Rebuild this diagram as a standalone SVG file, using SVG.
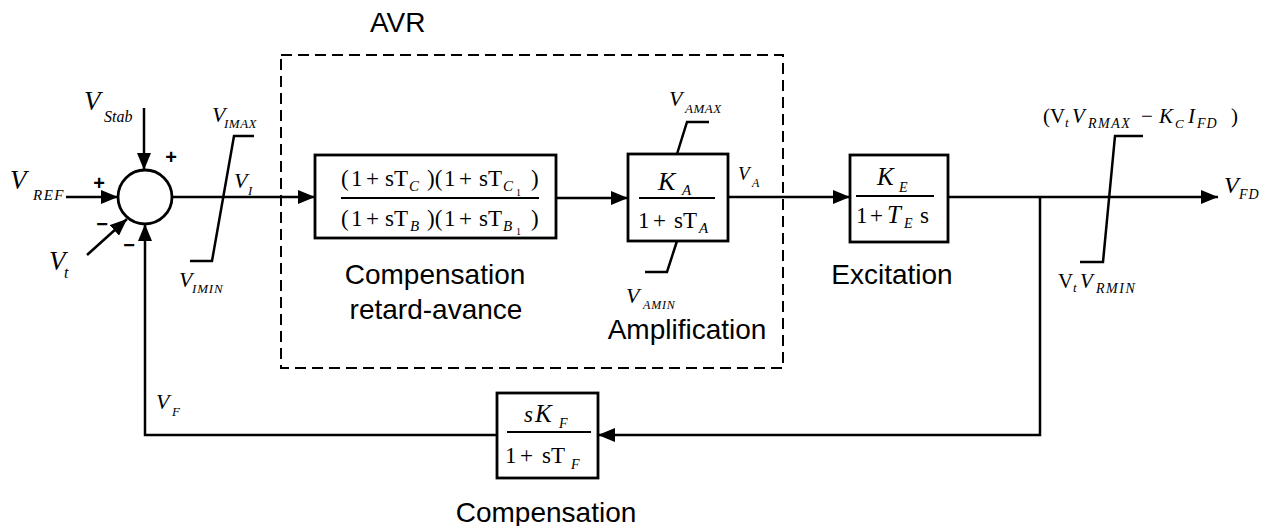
<svg xmlns="http://www.w3.org/2000/svg" width="1275" height="526" viewBox="0 0 1275 526">
<defs>
<style>
.ln{fill:none;stroke:#000;stroke-width:2.5}
.box{fill:#fff;stroke:#000;stroke-width:2.8}
.fr{stroke:#000;stroke-width:2}
.lim{fill:none;stroke:#000;stroke-width:2.5;stroke-linejoin:miter}
.lbl{font-family:"Liberation Sans",Arial,sans-serif;font-size:28px;fill:#000}
.m{font-family:"Liberation Serif","Times New Roman",serif;fill:#000}
.i{font-style:italic}
.sg{font-family:"Liberation Sans",Arial,sans-serif;font-weight:bold;font-size:20px;fill:#000;text-anchor:middle}
</style>
<marker id="ah" markerUnits="userSpaceOnUse" markerWidth="17" markerHeight="14" refX="17" refY="7" orient="auto">
<path d="M0,0 L17,7 L0,14 z" fill="#000"/>
</marker>
</defs>
<rect width="1275" height="526" fill="#fff"/>

<g id="avr-frame">
<rect x="281" y="55" width="502" height="313" fill="none" stroke="#000" stroke-width="2" stroke-dasharray="11 6"/>
<text class="lbl" x="370" y="32" font-size="29">AVR</text>
</g>

<g id="connectors">
<path class="ln" d="M66,197 H118" marker-end="url(#ah)"/>
<path class="ln" d="M144,108 V170" marker-end="url(#ah)"/>
<path class="ln" d="M87,255 L127,219" marker-end="url(#ah)"/>
<path class="ln" d="M497,435 H145 V224" marker-end="url(#ah)"/>
<path class="ln" d="M172,197 H315" marker-end="url(#ah)"/>
<path class="ln" d="M556,198 H628" marker-end="url(#ah)"/>
<path class="ln" d="M728,197 H850" marker-end="url(#ah)"/>
<path class="ln" d="M948,197 H1218" marker-end="url(#ah)"/>
<path class="ln" d="M1040,197 V435 H598" marker-end="url(#ah)"/>
</g>

<g id="sum">
<circle cx="145" cy="197" r="27" fill="#fff" stroke="#000" stroke-width="2.8"/>
<text class="sg" x="171" y="164">+</text>
<text class="sg" x="99" y="190">+</text>
<text class="sg" x="102" y="231">−</text>
<text class="sg" x="129" y="252">−</text>
</g>

<g id="inputs">
<text class="m i" font-size="27"><tspan x="10" y="189">V</tspan><tspan x="33" y="200" font-size="15" letter-spacing="1.5">REF</tspan></text>
<text class="m i" font-size="27"><tspan x="84" y="110">V</tspan><tspan x="104" y="122" font-size="16">Stab</tspan></text>
<text class="m i" font-size="27"><tspan x="49" y="270">V</tspan><tspan x="64" y="278" font-size="16">t</tspan></text>
</g>

<g id="limiter-vi">
<path class="lim" d="M190,261 H212 L234,136 H254"/>
<text class="m i" font-size="22"><tspan x="212" y="122">V</tspan><tspan x="224" y="128" font-size="13" letter-spacing="0.5">IMAX</tspan></text>
<text class="m i" font-size="22"><tspan x="234" y="188">V</tspan><tspan x="248" y="195" font-size="13">I</tspan></text>
<text class="m i" font-size="22"><tspan x="179" y="287">V</tspan><tspan x="192" y="293" font-size="13" letter-spacing="0.8">IMIN</tspan></text>
</g>

<g id="lead-lag">
<rect class="box" x="315" y="155" width="241" height="83"/>
<line class="fr" x1="341" y1="198" x2="539" y2="198"/>
<text class="m" font-size="23"><tspan x="341" y="186">(</tspan><tspan x="351">1</tspan><tspan x="366">+</tspan><tspan x="385">s</tspan><tspan x="394">T</tspan><tspan class="i" x="409" y="191" font-size="15">C</tspan><tspan x="427" y="186">)(</tspan><tspan x="444">1</tspan><tspan x="459">+</tspan><tspan x="479">s</tspan><tspan x="488">T</tspan><tspan class="i" x="503" y="191" font-size="15">C</tspan><tspan x="516" y="196" font-size="10">1</tspan><tspan x="531" y="186">)</tspan></text>
<text class="m" font-size="23"><tspan x="341" y="226">(</tspan><tspan x="351">1</tspan><tspan x="366">+</tspan><tspan x="385">s</tspan><tspan x="394">T</tspan><tspan class="i" x="410" y="231" font-size="15">B</tspan><tspan x="427" y="226">)(</tspan><tspan x="444">1</tspan><tspan x="459">+</tspan><tspan x="479">s</tspan><tspan x="488">T</tspan><tspan class="i" x="503" y="231" font-size="15">B</tspan><tspan x="516" y="235" font-size="10">1</tspan><tspan x="531" y="226">)</tspan></text>
<text class="lbl" x="435" y="284" text-anchor="middle">Compensation</text>
<text class="lbl" x="436" y="319" text-anchor="middle">retard-avance</text>
</g>

<g id="amplifier">
<rect class="box" x="628" y="154" width="100" height="87"/>
<line class="fr" x1="639" y1="198" x2="715" y2="198"/>
<text class="m i" font-size="26"><tspan x="658" y="190">K</tspan><tspan x="682" y="195" font-size="15">A</tspan></text>
<text class="m" font-size="23"><tspan x="638" y="228">1</tspan><tspan x="653">+</tspan><tspan x="674">s</tspan><tspan x="683">T</tspan><tspan class="i" x="699" y="233" font-size="15">A</tspan></text>
<path class="lim" d="M677,154 L687,122 H709"/>
<path class="lim" d="M677,241 L667,272 H645"/>
<text class="m i" font-size="22"><tspan x="669" y="106">V</tspan><tspan x="685" y="113" font-size="13" letter-spacing="0.5">AMAX</tspan></text>
<text class="m i" font-size="22"><tspan x="626" y="303">V</tspan><tspan x="643" y="309" font-size="12" letter-spacing="0.8">AMIN</tspan></text>
<text class="m i" font-size="19"><tspan x="738" y="180">V</tspan><tspan x="752" y="187" font-size="12">A</tspan></text>
<text class="lbl" x="687" y="339" text-anchor="middle">Amplification</text>
</g>

<g id="exciter">
<rect class="box" x="850" y="155" width="98" height="87"/>
<line class="fr" x1="856" y1="196" x2="934" y2="196"/>
<text class="m i" font-size="25"><tspan x="877" y="185">K</tspan><tspan x="899" y="192" font-size="14">E</tspan></text>
<text class="m" font-size="23"><tspan x="856" y="223">1</tspan><tspan x="870">+</tspan><tspan class="i" x="887" font-size="25">T</tspan><tspan class="i" x="904" y="228" font-size="14">E</tspan><tspan x="920" y="223">s</tspan></text>
<text class="lbl" x="892" y="284" text-anchor="middle" font-size="29">Excitation</text>
</g>

<g id="limiter-vr">
<path class="lim" d="M1080,262 H1103 L1115,136 H1143"/>
<text class="m" font-size="21"><tspan x="1043" y="123">(</tspan><tspan x="1050">V</tspan><tspan class="i" x="1065" y="127" font-size="13">t</tspan><tspan class="i" x="1072" y="123">V</tspan><tspan class="i" x="1088" y="128" font-size="14" letter-spacing="1.5">RMAX</tspan><tspan x="1141" y="123">−</tspan><tspan class="i" x="1159">K</tspan><tspan class="i" x="1175" y="128" font-size="13">C</tspan><tspan class="i" x="1188" y="123">I</tspan><tspan class="i" x="1197" y="128" font-size="14" letter-spacing="1">FD</tspan><tspan x="1231" y="123">)</tspan></text>
<text class="m" font-size="21"><tspan x="1058" y="288">V</tspan><tspan class="i" x="1073" y="292" font-size="13">t</tspan><tspan class="i" x="1080" y="288">V</tspan><tspan class="i" x="1096" y="293" font-size="14" letter-spacing="1.5">RMIN</tspan></text>
<text class="m i" font-size="24"><tspan x="1224" y="193">V</tspan><tspan x="1239" y="199" font-size="14" letter-spacing="1">FD</tspan></text>
</g>

<g id="feedback-comp">
<rect class="box" x="497" y="393" width="101" height="85"/>
<line class="fr" x1="507" y1="432" x2="591" y2="432"/>
<text class="m i" font-size="23"><tspan x="524" y="422">s</tspan><tspan x="535" font-size="25">K</tspan><tspan x="559" y="428" font-size="14">F</tspan></text>
<text class="m" font-size="23"><tspan x="505" y="463">1</tspan><tspan x="520">+</tspan><tspan x="542">s</tspan><tspan x="551">T</tspan><tspan class="i" x="571" y="469" font-size="14">F</tspan></text>
<text class="m i" font-size="22"><tspan x="156" y="409">V</tspan><tspan x="172" y="416" font-size="13">F</tspan></text>
<text class="lbl" x="546" y="522" text-anchor="middle">Compensation</text>
</g>
</svg>
